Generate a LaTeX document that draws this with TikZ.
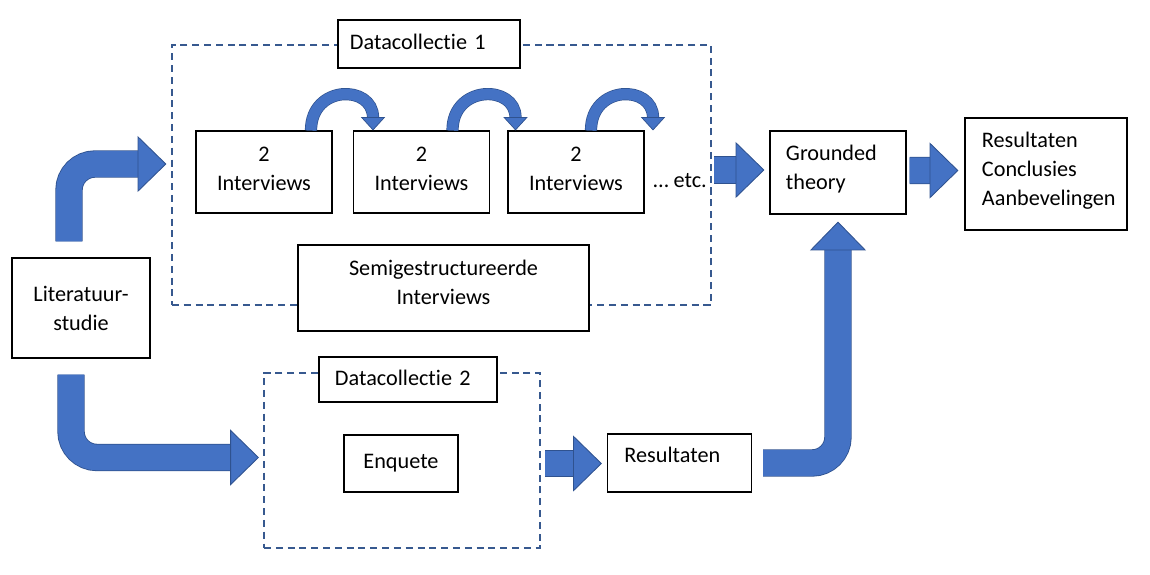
\documentclass[tikz,border=0pt]{standalone}
\usepackage{fontspec}
\setmainfont{Carlito}[Ligatures=NoCommon]
\usetikzlibrary{arrows.meta,calc}
\definecolor{arrowfill}{HTML}{4472C4}
\definecolor{arrowline}{HTML}{2F528F}
\definecolor{framecol}{HTML}{37598F}
\tikzstyle{box}=[draw,line width=0.8pt,fill=white,inner sep=0pt,align=center]
\tikzstyle{leftbox}=[box,align=left,inner xsep=0.4cm]
\tikzstyle{dashframe}=[draw=framecol,line width=1.4pt,dash pattern=on 5pt off 3.4pt,inner sep=0pt]
\tikzstyle{bigarrow}=[draw=arrowline,line width=0.6pt,double=arrowfill,double distance=0.64cm,
  rounded corners=0.65cm,-{Triangle[width=1.4cm,length=0.72cm,line width=0.6pt,fill=arrowfill]}]
\tikzstyle{smallarrow}=[draw=arrowline,line width=0.5pt,double=arrowfill,double distance=0.27cm,
  -{Triangle[width=0.6cm,length=0.33cm,line width=0.5pt,fill=arrowfill]}]

\begin{document}
\begin{tikzpicture}[x=0.025cm,y=-0.025cm,every node/.style={font=\fontsize{15.8}{20.6}\selectfont}]
  \useasboundingbox (0,0) rectangle (1150,574);
  \node[box,minimum width=3.45cm,minimum height=2.5cm] (lit) at (81,308) {Literatuur-\\studie};

  % datacollectie 1
  \node[dashframe,minimum width=13.475cm,minimum height=6.5cm] (frame1) at (441.5,175) {};
  \node[leftbox,text width=3.95cm,inner xsep=0.3cm,minimum height=1.2cm,text depth=2.8pt] (dc1) at (429,44) {Datacollectie 1};
  \foreach \name/\xpos in {iv1/264,iv2/421.5,iv3/576}
    \node[box,minimum width=3.4cm,minimum height=2.05cm,text depth=4.3pt] (\name) at (\xpos,172) {2\\Interviews};
  \node (etc) at (680,181) {… etc.};
  \node[box,minimum width=7.275cm,minimum height=2.15cm,text depth=7.8pt] (semi) at (443.5,288) {Semigestructureerde\\Interviews};
  \foreach \name/\a/\b in {iv1/47/109,iv2/31/94,iv3/15/77}
    \draw[smallarrow] ($(\name.north)+(\a,0)$) .. controls +(0,-46) and +(0,-46) .. ($(\name.north)+(\b,0)$);

  % datacollectie 2
  \node[dashframe,minimum width=6.9cm,minimum height=4.375cm] (frame2) at (402,460.5) {};
  \node[leftbox,text width=3.65cm,minimum height=1.125cm,text depth=2.8pt] (dc2) at (408,379.5) {Datacollectie 2};
  \node[box,minimum width=2.85cm,minimum height=1.425cm] (enq) at (401,463.5) {Enquete};
  \node[leftbox,text width=2.75cm,inner xsep=0.425cm,minimum height=1.45cm,text depth=11.4pt] (res) at (679.5,463) {Resultaten};

  \node[leftbox,text width=2.6cm,minimum height=2.075cm,text depth=28.6pt] (gt) at (838,172.5) {Grounded\\theory};
  \node[leftbox,text width=3.2cm,inner xsep=0.425cm,minimum height=2.8cm,text depth=48.5pt] (concl) at (1046,174) {Resultaten\\Conclusies\\Aanbevelingen};

  % block arrows
  \draw[bigarrow] ($(lit.north)+(-12,-16)$) |- ($(iv1.west)+(-29,-8)$);
  \draw[bigarrow] ($(lit.south)+(-10,16)$) |- ($(frame2.west)+(-4,-3)$);
  \draw[bigarrow] ($(frame2.east)+(4,3)$) -- ($(res.west)+(-5,0.5)$);
  \draw[bigarrow] ($(frame1.east)+(2,-5)$) -- ($(gt.west)+(-5,-2.5)$);
  \draw[bigarrow] ($(gt.east)+(3,-2)$) -- ($(concl.west)+(-6,-3.5)$);
  \draw[bigarrow] ($(res.east)+(11,0)$) -| ($(gt.south)+(0,7)$);
\end{tikzpicture}
\end{document}
